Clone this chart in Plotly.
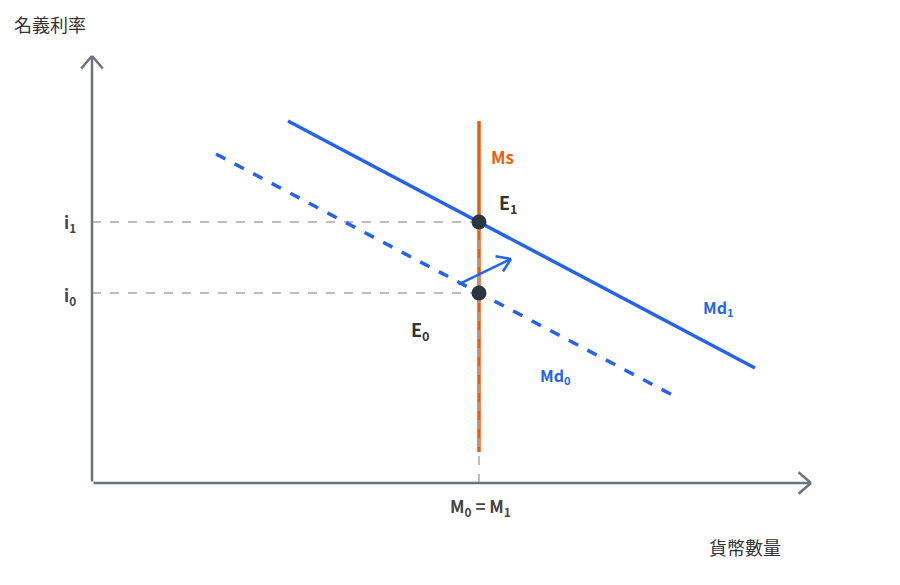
import plotly.graph_objects as go

# canvas-style coordinates (pixels of a 900x585 frame, y downwards)
md1_x = [288, 755]
md1_y = [121, 368]
md0_x = [216, 680]
md0_y = [154, 399]
ms_x = [479, 479]
ms_y = [121, 452]
eq_x = [479, 479]
eq_y = [222, 293]
eq_names = ["E1", "E0"]

BLUE = "#2563eb"
ORANGE = "#ef5a0f"
GREY = "#a3a7b0"
AXIS = "#6b7280"
DARK = "#2d3540"
FONT = "Noto Sans CJK TC"

fig = go.Figure()

# guide lines
for y in eq_y:
    fig.add_trace(go.Scatter(x=[92, eq_x[0]], y=[y, y], mode="lines",
                             line=dict(color=GREY, width=1.5, dash="dash"), hoverinfo="skip"))

fig.add_trace(go.Scatter(x=md0_x, y=md0_y, mode="lines",
                         line=dict(color=BLUE, width=3.5, dash="dash"), name="Md0"))
fig.add_trace(go.Scatter(x=md1_x, y=md1_y, mode="lines",
                         line=dict(color=BLUE, width=3.5), name="Md1"))
fig.add_trace(go.Scatter(x=ms_x, y=ms_y, mode="lines",
                         line=dict(color=ORANGE, width=3.5), name="Ms"))
fig.add_trace(go.Scatter(x=[eq_x[0], eq_x[0]], y=[eq_y[0], 483], mode="lines",
                         line=dict(color=GREY, width=1.5, dash="dash"), hoverinfo="skip"))
fig.add_trace(go.Scatter(x=eq_x, y=eq_y, mode="markers",
                         marker=dict(color=DARK, size=15), text=eq_names))

def seg(x0, y0, x1, y1, color, w):
    fig.add_annotation(x=x1, y=y1, ax=x0, ay=y0, xref="x", yref="y", axref="x", ayref="y",
                       showarrow=True, arrowhead=0, arrowwidth=w, arrowcolor=color, text="")

# axes with open arrowheads
seg(92, 483, 92, 56, AXIS, 2.5)
seg(92, 483, 811, 483, AXIS, 2.5)
for xs, ys, x, y in [(80, 70, 92, 56), (104, 70, 92, 56), (797, 471, 811, 483), (797, 495, 811, 483)]:
    seg(xs, ys, x, y, AXIS, 2.5)

# shift arrow (open chevron head)
seg(457, 285, 511, 259, BLUE, 2.5)
seg(494, 256, 511, 259, BLUE, 2.5)
seg(502, 273, 511, 259, BLUE, 2.5)

labels = [
    (50, 24, "名義利率", "#333333", 18, False),
    (745, 547, "貨幣數量", "#333333", 18, False),
    (70, 222, "i<sub>1</sub>", "#444444", 17, True),
    (70, 295, "i<sub>0</sub>", "#444444", 17, True),
    (480, 506, "M<sub>0</sub> = M<sub>1</sub>", "#444444", 17, True),
    (502, 156, "Ms", ORANGE, 17, True),
    (508, 203, "E<sub>1</sub>", "#333333", 18, True),
    (420, 330, "E<sub>0</sub>", "#333333", 18, True),
    (718, 307, "Md<sub>1</sub>", BLUE, 16, True),
    (555, 375, "Md<sub>0</sub>", BLUE, 16, True),
]
for x, y, t, c, s, b in labels:
    fig.add_annotation(x=x, y=y, xref="x", yref="y", showarrow=False,
                       text=f"<b>{t}</b>" if b else t, font=dict(color=c, size=s, family=FONT))

fig.update_layout(
    width=900, height=585, margin=dict(l=0, r=0, t=0, b=0),
    plot_bgcolor="white", paper_bgcolor="white", showlegend=False,
    xaxis=dict(range=[8, 908], visible=False, fixedrange=True),
    yaxis=dict(range=[593, 8], visible=False, fixedrange=True),
)
fig.write_html("out.html")
